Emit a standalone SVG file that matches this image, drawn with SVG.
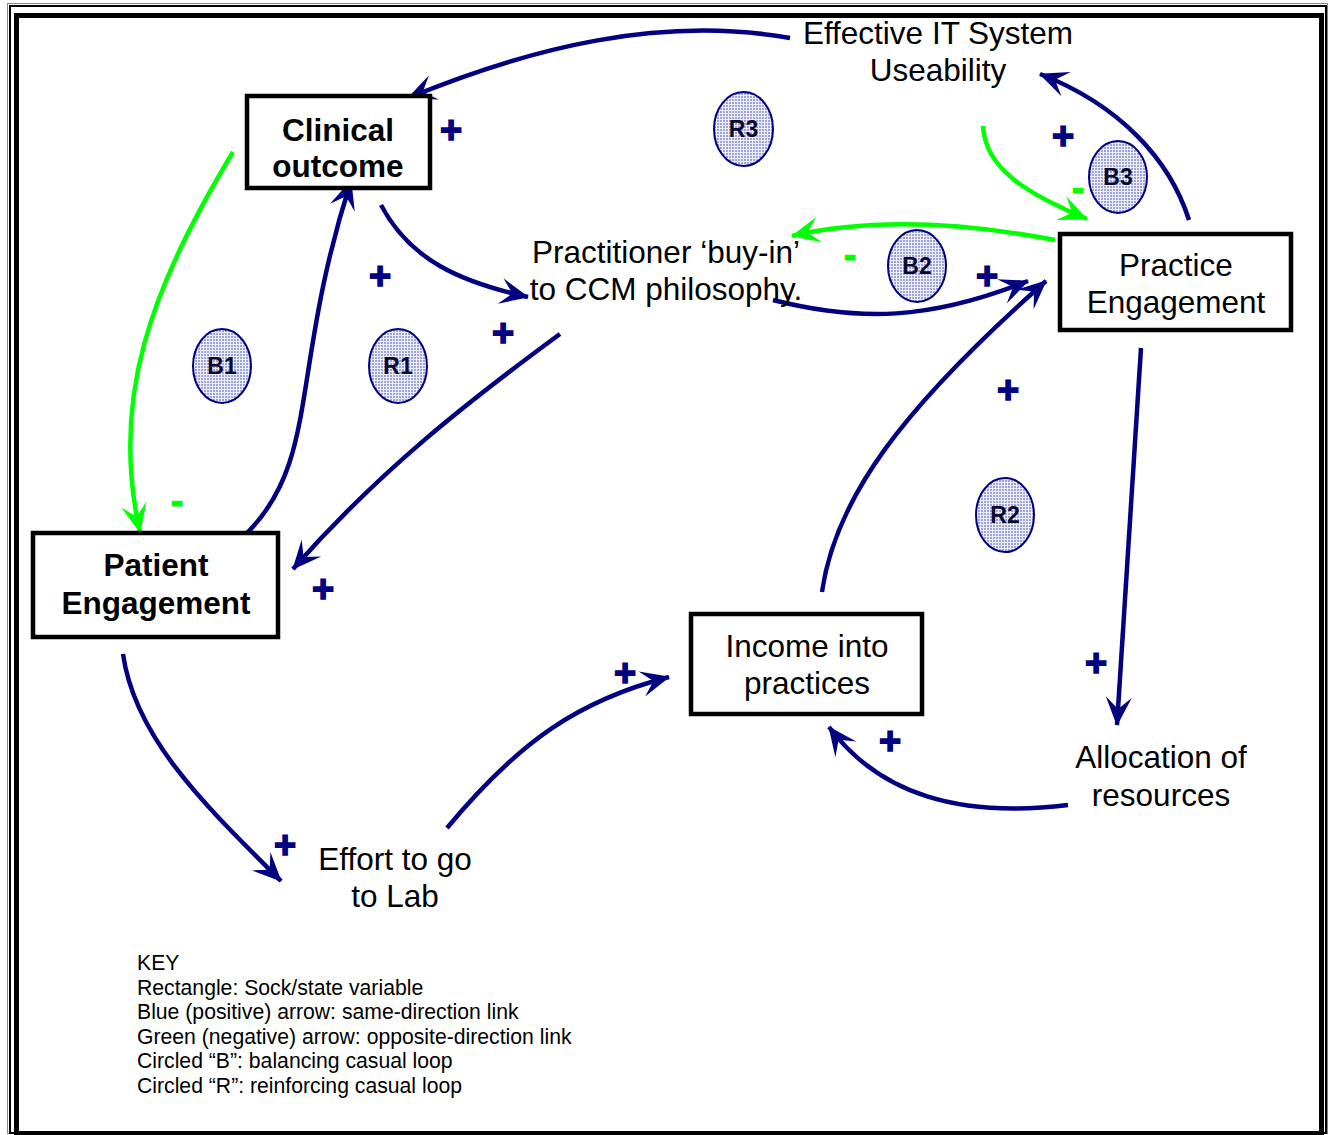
<svg xmlns="http://www.w3.org/2000/svg" width="1331" height="1135" viewBox="0 0 1331 1135">
<style>
.box{fill:#fff;stroke:#000;stroke-width:4.5}
.t{font-family:"Liberation Sans",Arial,sans-serif;font-size:31.5px;fill:#000;text-anchor:middle}
.b{font-weight:bold}
.key{font-family:"Liberation Sans",Arial,sans-serif;font-size:21.2px;fill:#000}
.pos{fill:none;stroke:#000080;stroke-width:4.5;marker-end:url(#ah)}
.neg{fill:none;stroke:#00ff00;stroke-width:4.5;marker-end:url(#ag)}
.loop{fill:url(#hatch);stroke:#000080;stroke-width:2}
.ll{font-family:"Liberation Sans",Arial,sans-serif;font-size:23px;font-weight:bold;fill:#0a0a30;text-anchor:middle}
.plus{font-family:"Liberation Sans",Arial,sans-serif;font-size:38px;font-weight:bold;fill:#000080;stroke:#000080;stroke-width:1.5;text-anchor:middle}
.minus{font-family:"Liberation Sans",Arial,sans-serif;font-size:38px;font-weight:bold;fill:#00ff00;stroke:#00ff00;stroke-width:1;text-anchor:middle}
</style>
<defs>
<pattern id="hatch" width="3" height="3" patternUnits="userSpaceOnUse">
<rect width="3" height="3" fill="#9ea2d8"/>
<rect x="2" width="1" height="3" fill="#eceefa"/>
<rect y="2" width="3" height="1" fill="#eceefa"/>
</pattern>
<marker id="ah" markerUnits="userSpaceOnUse" markerWidth="34" markerHeight="34" viewBox="-31 -16 34 32" refX="0" refY="0" orient="auto">
<path d="M1,0 L-28,-13 L-16,0 L-28,13 Z" fill="#000080"/>
</marker>
<marker id="ag" markerUnits="userSpaceOnUse" markerWidth="34" markerHeight="34" viewBox="-31 -16 34 32" refX="0" refY="0" orient="auto">
<path d="M1,0 L-28,-13 L-16,0 L-28,13 Z" fill="#00ff00"/>
</marker>
</defs>
<rect width="1331" height="1135" fill="#fff"/>
<g id="frame" fill="none">
<rect x="7.5" y="3.5" width="1320" height="1130" stroke="#888" stroke-width="1"/>
<rect x="10" y="6" width="1316" height="1127" stroke="#000" stroke-width="2"/>
<rect x="16.5" y="15.5" width="1305" height="1118" stroke="#000" stroke-width="5"/>
</g>
<g id="connectors">
<path class="pos" d="M790,38 C660,15 530,48 408,98"/>
<path class="pos" d="M1189,220 C1170,160 1120,105 1040,74"/>
<path class="neg" d="M983,126 C985,170 1030,195 1087,219"/>
<path class="neg" d="M1055,240 C960,222 870,218 792,236"/>
<path class="pos" d="M773,300 C860,322 930,320 1028,281"/>
<path class="pos" d="M822,592 C835,500 900,410 1046,281"/>
<path class="pos" d="M1141,348 L1117,725"/>
<path class="pos" d="M1068,805 C960,818 880,795 829,727"/>
<path class="pos" d="M447,828 C520,740 580,700 669,677"/>
<path class="pos" d="M123,654 C135,740 210,810 281,881"/>
<path class="pos" d="M247,533 C320,460 290,370 351,181"/>
<path class="pos" d="M560,334 C470,400 380,470 293,569"/>
<path class="pos" d="M381,205 C410,260 460,282 528,297"/>
<path class="neg" d="M233,152 C150,290 110,400 140,532"/>
</g>
<g id="clinical-outcome">
<rect class="box" x="247" y="96" width="183" height="92"/>
<text class="t b" x="338" y="141">Clinical</text>
<text class="t b" x="338" y="177">outcome</text>
</g>
<g id="patient-engagement">
<rect class="box" x="33" y="533" width="245" height="104"/>
<text class="t b" x="156" y="576">Patient</text>
<text class="t b" x="156" y="614">Engagement</text>
</g>
<g id="practice-engagement">
<rect class="box" x="1060" y="234" width="231" height="96"/>
<text class="t" x="1176" y="276">Practice</text>
<text class="t" x="1176" y="313">Engagement</text>
</g>
<g id="income">
<rect class="box" x="691" y="614" width="231" height="100"/>
<text class="t" x="807" y="657">Income into</text>
<text class="t" x="807" y="694">practices</text>
</g>
<g id="effective-it">
<text class="t" x="938" y="44">Effective IT System</text>
<text class="t" x="938" y="81">Useability</text>
</g>
<g id="practitioner-buyin">
<text class="t" x="666" y="263">Practitioner ‘buy-in’</text>
<text class="t" x="666" y="300">to CCM philosophy.</text>
</g>
<g id="allocation">
<text class="t" x="1161" y="768">Allocation of</text>
<text class="t" x="1161" y="806">resources</text>
</g>
<g id="effort-lab">
<text class="t" x="395" y="870">Effort to go</text>
<text class="t" x="395" y="907">to Lab</text>
</g>
<g id="loops">
<ellipse class="loop" cx="743.5" cy="129" rx="29.5" ry="37"/><text class="ll" x="743.5" y="137">R3</text>
<ellipse class="loop" cx="1118" cy="177" rx="29" ry="36"/><text class="ll" x="1118" y="185">B3</text>
<ellipse class="loop" cx="917" cy="266" rx="29" ry="36"/><text class="ll" x="917" y="274">B2</text>
<ellipse class="loop" cx="222" cy="366" rx="29" ry="37"/><text class="ll" x="222" y="374">B1</text>
<ellipse class="loop" cx="398" cy="366" rx="29" ry="37"/><text class="ll" x="398" y="374">R1</text>
<ellipse class="loop" cx="1005" cy="515" rx="29" ry="37"/><text class="ll" x="1005" y="523">R2</text>
</g>
<g id="signs">
<text class="plus" x="451" y="143">+</text>
<text class="plus" x="380" y="289">+</text>
<text class="plus" x="503" y="346">+</text>
<text class="plus" x="323" y="602">+</text>
<text class="plus" x="1063" y="149">+</text>
<text class="plus" x="987" y="289">+</text>
<text class="plus" x="1008" y="403">+</text>
<text class="plus" x="1096" y="676">+</text>
<text class="plus" x="890" y="754">+</text>
<text class="plus" x="625" y="686">+</text>
<text class="plus" x="285" y="858">+</text>
<text class="minus" x="177" y="514">-</text>
<text class="minus" x="850" y="268">-</text>
<text class="minus" x="1078" y="201">-</text>
</g>
<g id="key">
<text class="key" x="137" y="970">KEY</text>
<text class="key" x="137" y="994.5">Rectangle: Sock/state variable</text>
<text class="key" x="137" y="1019">Blue (positive) arrow: same-direction link</text>
<text class="key" x="137" y="1043.5">Green (negative) arrow: opposite-direction link</text>
<text class="key" x="137" y="1068">Circled “B”: balancing casual loop</text>
<text class="key" x="137" y="1092.5">Circled “R”: reinforcing casual loop</text>
</g>
</svg>
